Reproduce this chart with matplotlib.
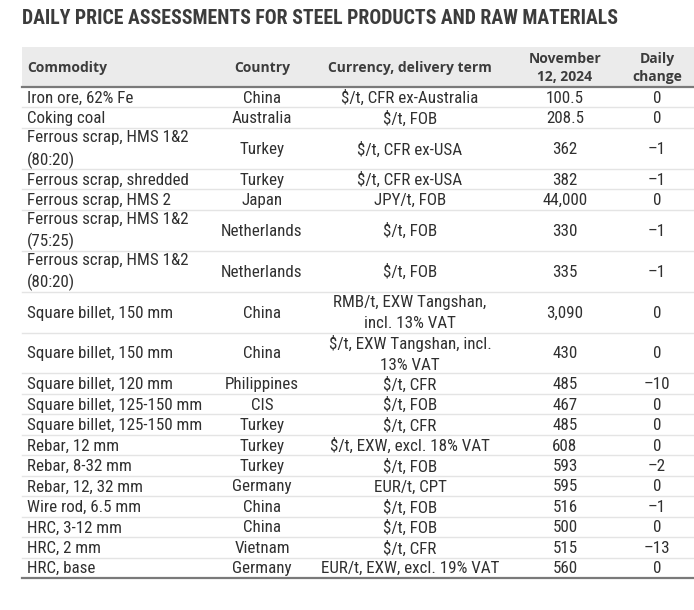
import matplotlib.pyplot as plt

title = 'DAILY PRICE ASSESSMENTS FOR STEEL PRODUCTS AND RAW MATERIALS'
headers = ['Commodity', 'Country', 'Currency, delivery term', 'November\n12, 2024', 'Daily\nchange']

commodities = [
    'Iron ore, 62% Fe', 'Coking coal', 'Ferrous scrap, HMS 1&2\n(80:20)',
    'Ferrous scrap, shredded', 'Ferrous scrap, HMS 2', 'Ferrous scrap, HMS 1&2\n(75:25)',
    'Ferrous scrap, HMS 1&2\n(80:20)', 'Square billet, 150 mm', 'Square billet, 150 mm',
    'Square billet, 120 mm', 'Square billet, 125-150 mm', 'Square billet, 125-150 mm',
    'Rebar, 12 mm', 'Rebar, 8-32 mm', 'Rebar, 12, 32 mm', 'Wire rod, 6.5 mm',
    'HRC, 3-12 mm', 'HRC, 2 mm', 'HRC, base',
]
countries = [
    'China', 'Australia', 'Turkey', 'Turkey', 'Japan', 'Netherlands', 'Netherlands',
    'China', 'China', 'Philippines', 'CIS', 'Turkey', 'Turkey', 'Turkey', 'Germany',
    'China', 'China', 'Vietnam', 'Germany',
]
terms = [
    '$/t, CFR ex-Australia', '$/t, FOB', '$/t, CFR ex-USA', '$/t, CFR ex-USA', 'JPY/t, FOB',
    '$/t, FOB', '$/t, FOB', 'RMB/t, EXW Tangshan,\nincl. 13% VAT', '$/t, EXW Tangshan, incl.\n13% VAT',
    '$/t, CFR', '$/t, FOB', '$/t, CFR', '$/t, EXW, excl. 18% VAT', '$/t, FOB', 'EUR/t, CPT',
    '$/t, FOB', '$/t, FOB', '$/t, CFR', 'EUR/t, EXW, excl. 19% VAT',
]
prices = ['100.5', '208.5', '362', '382', '44,000', '330', '335', '3,090', '430', '485',
          '467', '485', '608', '593', '595', '516', '500', '515', '560']
changes = ['0', '0', '–1', '–1', '0', '–1', '–1', '0', '0', '–10', '0', '0', '0', '–2',
           '0', '–1', '0', '–13', '0']

narrow = ['Roboto Condensed', 'Archivo Narrow', 'DejaVu Sans']
wide = ['Open Sans', 'DejaVu Sans']

fig = plt.figure(figsize=(6.94, 6.10), dpi=100)
ax = fig.add_axes([0, 0, 1, 1])
ax.set_xlim(0, 694)
ax.set_ylim(610, 0)
ax.axis('off')
renderer = fig.canvas.get_renderer()


def fitted_size(s, width, **kw):
    # font size that makes s span the width seen in the reference
    t = ax.text(0, 0, s, fontsize=10, **kw)
    w = t.get_window_extent(renderer).width
    t.remove()
    return 10 * width / w


txt = '#303030'
ax.text(22, 18, title, fontsize=fitted_size(title, 595, fontweight='bold', family=narrow),
        fontweight='bold', family=narrow, color='#3c3c3c', va='center', ha='left')

# header
top, head_bot = 47, 87
ax.fill_between([22, 694], top, head_bot, color='#ebebeb', lw=0)
ax.plot([22, 694], [head_bot, head_bot], color='#7a7a7a', lw=1.6)
col_x = [27, 262, 410, 565, 657]
hsize = fitted_size(headers[2], 164, fontweight='bold', family=wide)
for i, h in enumerate(headers):
    ax.text(col_x[i], (top + head_bot) / 2 + 1, h, fontsize=hsize, fontweight='bold',
            family=wide, color='#3c3c3c', va='center',
            ha='left' if i == 0 else 'center', linespacing=1.45)

bsize = (fitted_size('$/t, CFR ex-Australia', 140, family=narrow)
         + fitted_size('Square billet, 125-150 mm', 169, family=narrow)) / 2

unit = (578 - head_bot) / 24
y = head_bot
for i in range(len(commodities)):
    nl = max(commodities[i].count('\n'), terms[i].count('\n')) + 1
    h = unit * nl
    yc = y + h / 2 + 1
    kw = dict(fontsize=bsize, family=narrow, color=txt, va='center', linespacing=1.45)
    ax.text(col_x[0], yc, commodities[i], ha='left', **kw)
    ax.text(col_x[1], yc, countries[i], ha='center', **kw)
    ax.text(col_x[2], yc, terms[i], ha='center', **kw)
    ax.text(col_x[3], yc, prices[i], ha='center', **kw)
    ax.text(col_x[4], yc, changes[i], ha='center', **kw)
    y += h
    if i < len(commodities) - 1:
        ax.plot([22, 694], [y, y], color='#e4e4e4', lw=1)

ax.plot([22, 694], [578, 578], color='#7a7a7a', lw=1.6)

fig.savefig('out.png', dpi=100)
